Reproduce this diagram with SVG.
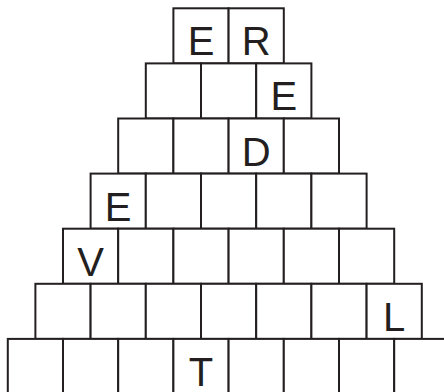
<svg xmlns="http://www.w3.org/2000/svg" width="444" height="392" viewBox="0 0 444 392">
<style>
.c{fill:#fff;stroke:#231f20;stroke-width:2}
.t{font-family:"Liberation Sans",Arial,sans-serif;font-size:40px;fill:#231f20;text-anchor:middle}
</style>
<rect width="444" height="392" fill="#fff"/>
<defs><rect id="b" width="55.2" height="55.1" class="c"/></defs>
<g id="r0c0"><use href="#b" x="173.4" y="8.3"/><text class="t" x="201" y="55.3">E</text></g>
<g id="r0c1"><use href="#b" x="228.6" y="8.3"/><text class="t" x="256.2" y="55.3">R</text></g>
<g id="r1c0"><use href="#b" x="145.8" y="63.4"/></g>
<g id="r1c1"><use href="#b" x="201" y="63.4"/></g>
<g id="r1c2"><use href="#b" x="256.2" y="63.4"/><text class="t" x="283.8" y="110.4">E</text></g>
<g id="r2c0"><use href="#b" x="118.2" y="118.5"/></g>
<g id="r2c1"><use href="#b" x="173.4" y="118.5"/></g>
<g id="r2c2"><use href="#b" x="228.6" y="118.5"/><text class="t" x="256.2" y="165.5">D</text></g>
<g id="r2c3"><use href="#b" x="283.8" y="118.5"/></g>
<g id="r3c0"><use href="#b" x="90.6" y="173.6"/><text class="t" x="118.2" y="220.6">E</text></g>
<g id="r3c1"><use href="#b" x="145.8" y="173.6"/></g>
<g id="r3c2"><use href="#b" x="201" y="173.6"/></g>
<g id="r3c3"><use href="#b" x="256.2" y="173.6"/></g>
<g id="r3c4"><use href="#b" x="311.4" y="173.6"/></g>
<g id="r4c0"><use href="#b" x="63" y="228.7"/><text class="t" x="90.6" y="275.7">V</text></g>
<g id="r4c1"><use href="#b" x="118.2" y="228.7"/></g>
<g id="r4c2"><use href="#b" x="173.4" y="228.7"/></g>
<g id="r4c3"><use href="#b" x="228.6" y="228.7"/></g>
<g id="r4c4"><use href="#b" x="283.8" y="228.7"/></g>
<g id="r4c5"><use href="#b" x="339" y="228.7"/></g>
<g id="r5c0"><use href="#b" x="35.4" y="283.8"/></g>
<g id="r5c1"><use href="#b" x="90.6" y="283.8"/></g>
<g id="r5c2"><use href="#b" x="145.8" y="283.8"/></g>
<g id="r5c3"><use href="#b" x="201" y="283.8"/></g>
<g id="r5c4"><use href="#b" x="256.2" y="283.8"/></g>
<g id="r5c5"><use href="#b" x="311.4" y="283.8"/></g>
<g id="r5c6"><use href="#b" x="366.6" y="283.8"/><text class="t" x="394.2" y="330.8">L</text></g>
<g id="r6c0"><use href="#b" x="7.8" y="338.9"/></g>
<g id="r6c1"><use href="#b" x="63" y="338.9"/></g>
<g id="r6c2"><use href="#b" x="118.2" y="338.9"/></g>
<g id="r6c3"><use href="#b" x="173.4" y="338.9"/><text class="t" x="201" y="385.9">T</text></g>
<g id="r6c4"><use href="#b" x="228.6" y="338.9"/></g>
<g id="r6c5"><use href="#b" x="283.8" y="338.9"/></g>
<g id="r6c6"><use href="#b" x="339" y="338.9"/></g>
<g id="r6c7"><use href="#b" x="394.2" y="338.9"/></g>
<g id="connectors"></g>
</svg>
